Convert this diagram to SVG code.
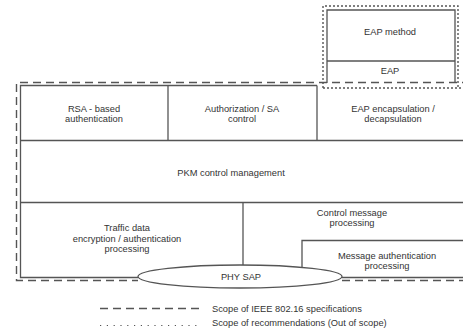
<svg xmlns="http://www.w3.org/2000/svg" width="463" height="331" viewBox="0 0 463 331">
<style>
.s{fill:none;stroke:#555;stroke-width:1.3}
.d{fill:none;stroke:#555;stroke-width:1.4;stroke-dasharray:8,5}
.o{fill:none;stroke:#555;stroke-width:1.4;stroke-dasharray:2,2}
.ol{fill:none;stroke:#555;stroke-width:1.2;stroke-dasharray:1.2,5.6}
text{font-family:"Liberation Sans",Arial,sans-serif;font-size:9.3px;fill:#333;text-anchor:middle}
.l{text-anchor:start}
</style>
<rect width="463" height="331" fill="#fff"/>
<g id="scopes">
<path class="d" d="M470,82.5 H16.5 V280.5 H138"/>
<path class="d" d="M342,280.5 H470"/>
<path class="o" d="M323,88 V6 H458 V88"/>
<path class="o" d="M323,88 H470"/>
</g>
<g id="eap-method">
<path class="s" d="M327,83 V10 H455 V83"/>
<text x="390" y="35">EAP method</text>
</g>
<g id="eap">
<line class="s" x1="327" y1="61" x2="455" y2="61"/>
<text x="390" y="74">EAP</text>
</g>
<g id="frame">
<path class="s" d="M317,85.5 H20.5 V277.5 H138"/>
<path class="s" d="M342,277.5 H470"/>
</g>
<g id="rsa">
<line class="s" x1="168" y1="85.5" x2="168" y2="140.5"/>
<text x="94" y="112">RSA - based</text>
<text x="94" y="122">authentication</text>
</g>
<g id="authz">
<line class="s" x1="317" y1="85.5" x2="317" y2="140.5"/>
<text x="242" y="112">Authorization / SA</text>
<text x="242" y="122">control</text>
</g>
<g id="eap-encap">
<text x="393" y="112">EAP encapsulation /</text>
<text x="393" y="122">decapsulation</text>
</g>
<g id="pkm">
<line class="s" x1="20.5" y1="140.5" x2="470" y2="140.5"/>
<text x="231" y="176">PKM control management</text>
</g>
<g id="traffic">
<line class="s" x1="20.5" y1="202.5" x2="470" y2="202.5"/>
<line class="s" x1="243" y1="202.5" x2="243" y2="266"/>
<text x="127" y="231">Traffic data</text>
<text x="127" y="241.5">encryption / authentication</text>
<text x="127" y="252">processing</text>
</g>
<g id="control-msg">
<text x="352" y="216">Control message</text>
<text x="352" y="226">processing</text>
</g>
<g id="msg-auth">
<path class="s" d="M302,278 V240.5 H470"/>
<text x="387" y="259">Message authentication</text>
<text x="387" y="269">processing</text>
</g>
<g id="phy-sap">
<ellipse cx="240" cy="276.5" rx="102" ry="11.5" fill="#fff" stroke="#555" stroke-width="1.3"/>
<text x="241" y="280">PHY SAP</text>
</g>
<g id="legend">
<line class="d" x1="100" y1="308.5" x2="201" y2="308.5"/>
<text class="l" x="212" y="311.5">Scope of IEEE 802.16 specifications</text>
<line class="ol" x1="100" y1="325.5" x2="198" y2="325.5"/>
<text class="l" x="212" y="325.5">Scope of recommendations (Out of scope)</text>
</g>
</svg>
